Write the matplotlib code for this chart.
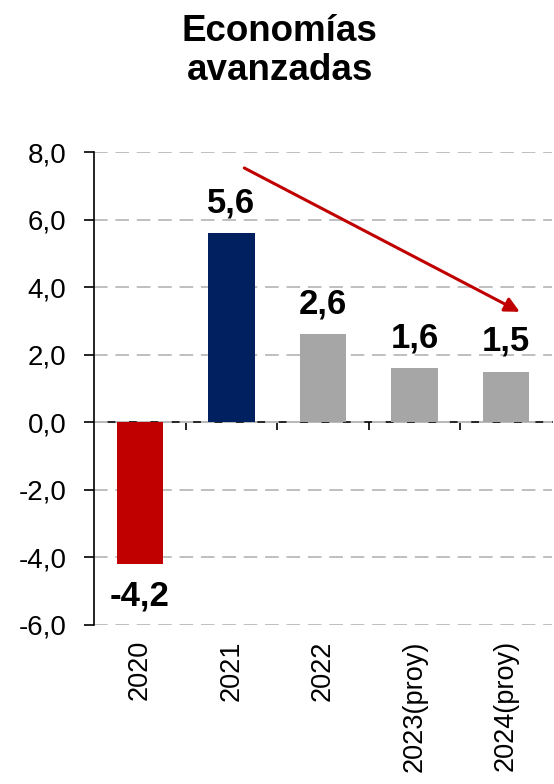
import matplotlib.pyplot as plt
import numpy as np

plt.rcParams['font.family'] = ['Liberation Sans', 'DejaVu Sans']

categories = ["2020", "2021", "2022", "2023(proy)", "2024(proy)"]
values = [-4.2, 5.6, 2.6, 1.6, 1.5]
labels = ["-4,2", "5,6", "2,6", "1,6", "1,5"]
colors = ["#C00000", "#002060", "#A6A6A6", "#A6A6A6", "#A6A6A6"]
yticks = [-6, -4, -2, 0, 2, 4, 6, 8]
ytick_labels = ["-6,0", "-4,0", "-2,0", "0,0", "2,0", "4,0", "6,0", "8,0"]

fig = plt.figure(figsize=(5.54, 7.84), dpi=100)
ax = fig.add_axes([0.170, 0.203, 0.826, 0.603])

x = np.arange(len(categories))
bars = ax.bar(x, values, width=0.51, color=colors, zorder=3)

for xi, v, lab in zip(x, values, labels):
    off = 10 if v >= 0 else -11
    ax.annotate(lab, xy=(xi, v), xytext=(0, off), textcoords="offset points",
                ha="center", va="bottom" if v >= 0 else "top",
                fontsize=25, fontweight="bold", color="black")

ax.set_xlim(-0.5, len(categories) - 0.5)
ax.set_ylim(-6, 8)
ax.set_yticks(yticks)
ax.set_yticklabels(ytick_labels, fontsize=20)
ax.tick_params(axis="y", length=7, width=1.2, direction="out", pad=13)
ax.yaxis.grid(True, linestyle=(0, (7, 4)), color="#BFBFBF", linewidth=1.4, zorder=0)
ax.set_axisbelow(True)

ax.set_xticks(x)
ax.set_xticklabels(categories, rotation=90, fontsize=19.5, va="top")
ax.tick_params(axis="x", length=0, pad=11)

for side in ["top", "right", "bottom"]:
    ax.spines[side].set_visible(False)
ax.spines["left"].set_linewidth(1.2)

# zero line with category boundary ticks
sec = ax.secondary_xaxis(6 / 14)
sec.set_xticks(x[:-1] + 0.5)
sec.set_xticklabels([])
sec.tick_params(axis="x", length=6, width=1.2, direction="out")
sec.spines["bottom"].set_linewidth(1.2)

# trend arrow
ax.annotate("", xy=(4.15, 3.27), xytext=(1.14, 7.53),
            arrowprops=dict(arrowstyle="-|>", color="#C00000", lw=2.2,
                            mutation_scale=22, shrinkA=0, shrinkB=0),
            zorder=4)

fig.text(0.505, 0.935, "Economías\navanzadas", ha="center", va="center",
         fontsize=26.5, fontweight="bold", linespacing=1.15)

fig.savefig("out.png", dpi=100)
